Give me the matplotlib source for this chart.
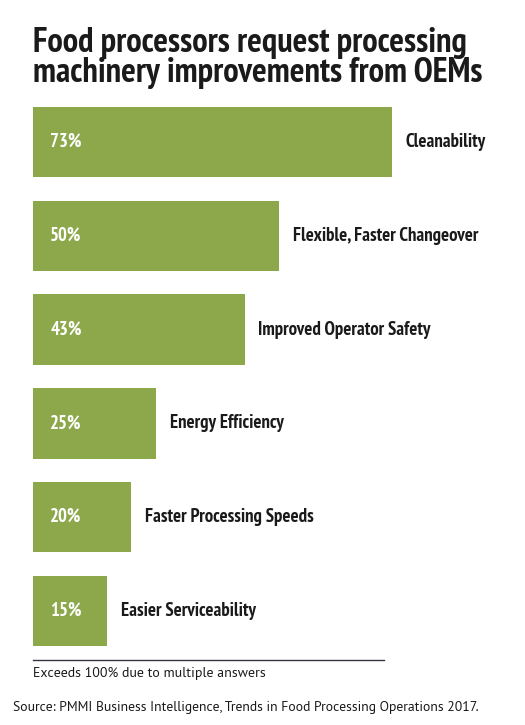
import matplotlib.pyplot as plt

# data
categories = ["Cleanability", "Flexible, Faster Changeover", "Improved Operator Safety",
              "Energy Efficiency", "Faster Processing Speeds", "Easier Serviceability"]
values = [73, 50, 43, 25, 20, 15]

narrow = ["PT Sans Narrow", "Roboto Condensed", "DejaVu Sans"]
plain = ["PT Sans", "Source Sans 3", "DejaVu Sans"]
green = "#8da84b"
dark = "#1a1a1a"

fig = plt.figure(figsize=(5.25, 7.25), dpi=100)
ax = fig.add_axes([33 / 525, 1 - 646 / 725, 492 / 525, 539 / 725])

pos = list(range(len(values)))
ax.barh(pos, values, height=0.75, color=green)
ax.set_xlim(0, 100)
ax.set_ylim(len(values) - 1 + 0.374, -0.374)

for p, v, c in zip(pos, values, categories):
    ax.text(3.5, p, f"{v}%", color="white", fontsize=13.5, fontweight="bold",
            family=narrow, va="center", ha="left")
    ax.text(v + 2.8, p, c, color=dark, fontsize=13.6, fontweight="bold",
            family=narrow, va="center", ha="left")

ax.axis("off")

fig.text(33 / 525, 1 - 58 / 725, "Food processors request processing\nmachinery improvements from OEMs",
         fontsize=24.8, fontweight="bold", family=narrow, color=dark,
         va="center", ha="left", linespacing=0.93)

fig.add_artist(plt.Line2D([33 / 525, 384 / 525], [1 - 660 / 725, 1 - 660 / 725],
                          color="#333344", lw=1))
fig.text(33 / 525, 1 - 674 / 725, "Exceeds 100% due to multiple answers",
         fontsize=10, family=plain, color=dark, va="center", ha="left")
fig.text(13 / 525, 1 - 707 / 725,
         "Source: PMMI Business Intelligence, Trends in Food Processing Operations 2017.",
         fontsize=9.9, family=plain, color=dark, va="center", ha="left")

fig.savefig("out.png", dpi=100)
